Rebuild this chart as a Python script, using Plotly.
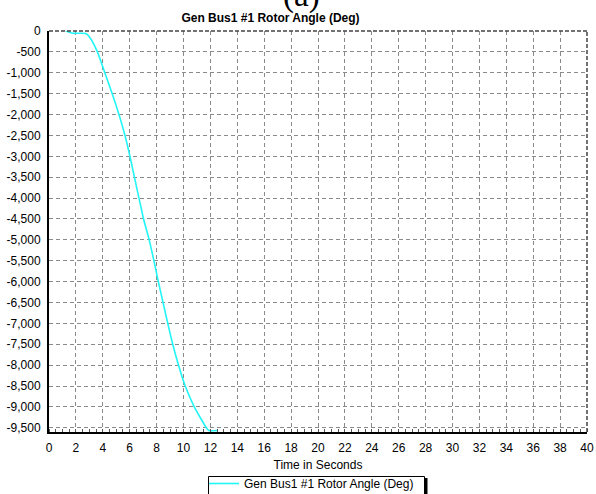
import plotly.graph_objects as go

# Data
time_s = [1.25, 1.5, 1.8, 2.75, 3.05, 3.6, 4.15, 4.7, 5.2, 5.65, 6.02, 6.35, 6.69, 7.03,
          7.45, 7.8, 8.13, 8.48, 8.83, 9.2, 9.63, 10.13, 10.8, 11.7, 11.88, 12.5]
rotor_angle = [0, -30, -55, -60, -160, -500, -1000, -1500, -2000, -2500, -3000, -3500, -4000, -4500,
               -5000, -5500, -6000, -6500, -7000, -7500, -8000, -8500, -9000, -9500, -9565, -9565]

x_tickvals = list(range(0, 41, 2))
y_tickvals = list(range(0, -9501, -500))
y_ticktext = ["0", "-500", "-1,000", "-1,500", "-2,000", "-2,500", "-3,000", "-3,500", "-4,000",
              "-4,500", "-5,000", "-5,500", "-6,000", "-6,500", "-7,000", "-7,500", "-8,000",
              "-8,500", "-9,000", "-9,500"]

series_name = "Gen Bus1 #1 Rotor Angle (Deg)"

W, H = 596, 494
L, R, T, B = 49, 587, 31, 432
pw, ph = R - L, B - T


def px(xp):
    return (xp - L) / pw


def py(yp):
    return (B - yp) / ph


font_family = "Liberation Sans, Arial, sans-serif"

fig = go.Figure()
fig.add_trace(go.Scatter(
    x=time_s, y=rotor_angle, mode="lines", name=series_name,
    line=dict(color="#22F5F5", width=1.6, shape="spline", smoothing=0.5),
))

fig.update_layout(
    width=W, height=H,
    margin=dict(l=L, r=W - R, t=T, b=H - B, autoexpand=False),
    paper_bgcolor="white", plot_bgcolor="white",
    font=dict(family=font_family, size=12, color="black"),
    title=dict(text="<b>" + series_name + "</b>", x=px(270.5), xanchor="center",
               xref="paper", y=1 - 18 / H, yanchor="middle",
               font=dict(size=12, color="black", family=font_family)),
    showlegend=True,
    legend=dict(orientation="h", x=px(204), xanchor="left", y=py(469), yanchor="top",
                borderwidth=0, bgcolor="rgba(0,0,0,0)",
                font=dict(size=12, color="black", family=font_family),
                itemwidth=30),
)

fig.update_xaxes(
    range=[0, 40], tickvals=x_tickvals, ticks="", showline=True, linecolor="black", linewidth=2,
    showgrid=True, gridcolor="#8a8a8a", griddash="4px,3px", gridwidth=1, zeroline=False,
    tickfont=dict(size=12), ticklabelstandoff=4, automargin=False,
    title=dict(text="Time in Seconds", font=dict(size=12), standoff=6),
    minor=dict(dtick=0.5, ticks="inside", ticklen=3, tickcolor="#555", showgrid=False),
)
fig.update_yaxes(
    range=[-9600, 0], tickvals=y_tickvals, ticktext=y_ticktext, ticks="", showline=True,
    linecolor="black", linewidth=2, showgrid=True, gridcolor="#8a8a8a", griddash="4px,3px",
    gridwidth=1, zeroline=False, tickfont=dict(size=12), ticklabelstandoff=4, automargin=False,
)

# dashed top/right frame
fig.add_shape(type="line", xref="paper", yref="paper", x0=0, x1=1, y0=1, y1=1,
              line=dict(color="#444", width=1.5, dash="4px,2px"))
fig.add_shape(type="line", xref="paper", yref="paper", x0=1, x1=1, y0=0, y1=1,
              line=dict(color="#444", width=1.5, dash="4px,2px"))

# legend frame with shadow edge
fig.add_shape(type="rect", xref="paper", yref="paper", x0=px(208.5), x1=px(424.5), y0=py(476.5), y1=py(500),
              line=dict(color="black", width=1), layer="below")
fig.add_shape(type="line", xref="paper", yref="paper", x0=px(426), x1=px(426), y0=py(478), y1=py(500),
              line=dict(color="black", width=3))

fig.add_annotation(text="(a)", xref="paper", yref="paper", x=px(301.5), y=py(16), xanchor="center",
                   yanchor="bottom", showarrow=False,
                   font=dict(family="Liberation Serif, Times New Roman, serif", size=33, color="black"))

fig.write_html("out.html", post_script="document.body.style.margin='0';",
               config={"displayModeBar": False})
